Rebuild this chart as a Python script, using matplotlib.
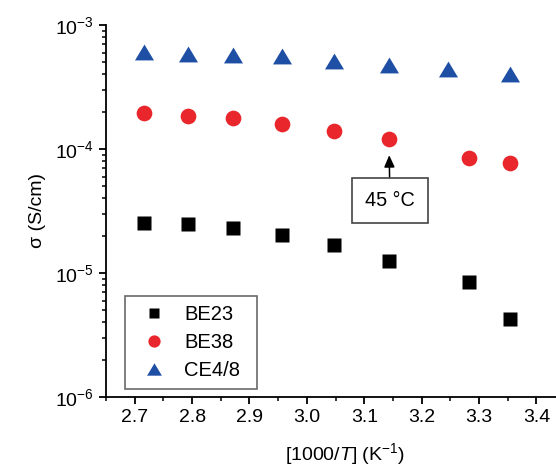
import matplotlib
matplotlib.use("Agg")
import matplotlib.pyplot as plt
import numpy as np

plt.rcParams['font.family'] = ['Liberation Sans', 'DejaVu Sans']
plt.rcParams['mathtext.fontset'] = 'custom'
plt.rcParams['mathtext.rm'] = 'Liberation Sans'
plt.rcParams['mathtext.it'] = 'Liberation Sans:italic'

# Data
x_be = [2.716, 2.792, 2.872, 2.957, 3.047, 3.143, 3.283, 3.354]
x_ce = [2.716, 2.792, 2.872, 2.957, 3.047, 3.143, 3.245, 3.354]
be23 = [2.53e-5, 2.48e-5, 2.31e-5, 2.02e-5, 1.68e-5, 1.25e-5, 8.46e-6, 4.26e-6]
be38 = [1.95e-4, 1.85e-4, 1.78e-4, 1.59e-4, 1.40e-4, 1.20e-4, 8.46e-5, 7.71e-5]
ce48 = [6.05e-4, 5.83e-4, 5.73e-4, 5.62e-4, 5.13e-4, 4.76e-4, 4.41e-4, 4.03e-4]
labels = ['BE23', 'BE38', 'CE4/8']
x_ticks = [2.7, 2.8, 2.9, 3.0, 3.1, 3.2, 3.3, 3.4]

fig = plt.figure(figsize=(5.56, 4.67), dpi=100)
ax = fig.add_axes([106/556, 70/467, 450/556, 372/467])

tri = [(-1.2, -1), (1.2, -1), (0, 1)]
ax.plot(x_be, be23, ls='none', marker='s', ms=9.6, color='black', mec='none', label=labels[0])
ax.plot(x_be, be38, ls='none', marker='o', ms=11.3, color='#e8262b', mec='none', label=labels[1])
ax.plot(x_ce, ce48, ls='none', marker=tri, ms=13.7, color='#1f4fa5', mec='none', label=labels[2])

ax.set_yscale('log')
ax.set_ylim(1e-6, 1e-3)
ax.set_xlim(2.65, 3.434)
ax.set_xticks(x_ticks)
ax.set_xticklabels([f'{v:.1f}' for v in x_ticks])
ax.xaxis.set_minor_locator(matplotlib.ticker.MultipleLocator(0.05))

for s in ['top', 'right']:
    ax.spines[s].set_visible(False)
for s in ['left', 'bottom']:
    ax.spines[s].set_linewidth(1.3)

ax.tick_params(axis='both', which='major', direction='out', length=5, width=1.3,
               labelsize=14, pad=4)
ax.tick_params(axis='both', which='minor', direction='out', length=3, width=1.1)

ax.set_ylabel('σ (S/cm)', fontsize=14, labelpad=6)
ax.set_xlabel('[1000/$T$] (K$^{−1}$)', fontsize=14)
ax.xaxis.set_label_coords(0.531, -0.118)

ax.annotate('45 °C', xy=(x_be[5], be38[5]), xycoords='data',
            xytext=(0.7, -44), textcoords='offset points',
            ha='center', va='center', fontsize=14.3,
            bbox=dict(boxstyle='square,pad=0.64', fc='white', ec='#444444', lw=1.2),
            arrowprops=dict(arrowstyle='-|>,head_length=0.5,head_width=0.22', color='black',
                            lw=1.1, shrinkA=0, shrinkB=11.5))

leg = ax.legend(loc='lower left', bbox_to_anchor=(0.042, 0.0215, 0.293, 0.2), mode='expand',
                fontsize=14.5, markerscale=0.78, frameon=True, fancybox=False,
                edgecolor='#444444', handlelength=2.0, handletextpad=0.5, borderpad=0.45,
                labelspacing=0.45, borderaxespad=0)
leg.get_frame().set_linewidth(1.2)

fig.savefig('out.png', dpi=100)
